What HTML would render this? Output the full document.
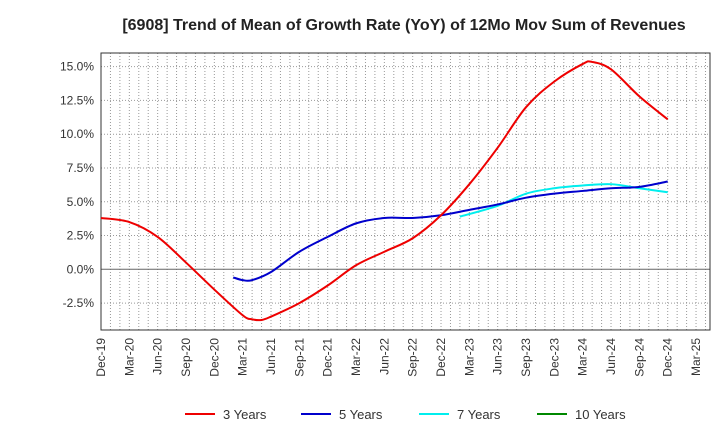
<!DOCTYPE html>
<html><head><meta charset="utf-8"><style>
body{margin:0;background:#fff;font-family:"Liberation Sans",Arial,sans-serif}
svg text{font-family:"Liberation Sans",Arial,sans-serif}
</style></head><body>
<svg id="chart" width="720" height="440">
<text x="404" y="30" text-anchor="middle" font-size="16" font-weight="bold" fill="#222">[6908]  Trend of Mean of Growth Rate (YoY) of 12Mo Mov Sum of Revenues</text>
<g id="grid"></g><g id="axes"></g><g id="series"></g>
<g font-size="13" fill="#333">
<line x1="185" y1="414" x2="215" y2="414" stroke="#e00" stroke-width="2"/><text x="223" y="419" fill="#333">3 Years</text>
<line x1="301" y1="414" x2="331" y2="414" stroke="#00c" stroke-width="2"/><text x="339" y="419" fill="#333">5 Years</text>
<line x1="419" y1="414" x2="449" y2="414" stroke="#0ee" stroke-width="2"/><text x="457" y="419" fill="#333">7 Years</text>
<line x1="537" y1="414" x2="567" y2="414" stroke="#080" stroke-width="2"/><text x="575" y="419" fill="#333">10 Years</text>
</g>
</svg>
<script>
const xLabels=["Dec-19","Mar-20","Jun-20","Sep-20","Dec-20","Mar-21","Jun-21","Sep-21","Dec-21","Mar-22","Jun-22","Sep-22","Dec-22","Mar-23","Jun-23","Sep-23","Dec-23","Mar-24","Jun-24","Sep-24","Dec-24","Mar-25"];
const yTicks=[-2.5,0,2.5,5,7.5,10,12.5,15];
const yTickLabels=["-2.5%","0.0%","2.5%","5.0%","7.5%","10.0%","12.5%","15.0%"];
// months since Dec-19
const m3=[0,3,6,9,12,15,16,17,18,21,24,27,30,33,36,39,42,45,48,51,52,54,57,60];
const v3=[3.8,3.5,2.4,0.5,-1.5,-3.4,-3.7,-3.75,-3.5,-2.5,-1.2,0.3,1.3,2.3,4.0,6.3,9.0,12.0,13.9,15.2,15.35,14.8,12.8,11.1];
const m5=[14,15,16,18,21,24,27,30,33,36,39,42,45,48,51,54,57,60];
const v5=[-0.6,-0.8,-0.8,-0.2,1.3,2.4,3.4,3.8,3.8,4.0,4.4,4.8,5.3,5.6,5.8,6.0,6.1,6.5];
const m7=[38,42,45,48,51,54,57,60];
const v7=[3.9,4.7,5.6,6.0,6.2,6.3,6.0,5.7];
const L=101,R=710,T=53,B=330;
const X=m=>L+m*9.445;
const Y=v=>269.3-v*13.51;
const ns="http://www.w3.org/2000/svg";
function mk(tag,attrs,parent){const e=document.createElementNS(ns,tag);for(const k in attrs)e.setAttribute(k,attrs[k]);document.getElementById(parent).appendChild(e);return e;}
for(let m=0;X(m)<R;m++){
 const g=mk('line',{x1:X(m),x2:X(m),y1:T,y2:B,stroke:'#999','stroke-dasharray':'1,2','stroke-width':1},'grid');
 
 
}
yTicks.forEach((v,i)=>{
 const g=mk('line',{x1:L,x2:R,y1:Y(v),y2:Y(v),stroke:v===0?'#666':'#999','stroke-dasharray':v===0?'':'1,2'},'grid');
 
 
 const t=mk('text',{x:L-7,y:Y(v)+4,'text-anchor':'end','font-size':12,fill:'#333'},'axes');
 t.textContent=yTickLabels[i];
 
 
});
const fr=mk('rect',{x:L,y:T,width:R-L,height:B-T,fill:'none',stroke:'#333'},'axes');


xLabels.forEach((s,i)=>{
 const x=X(i*3);
 const t=mk('text',{x:x+4,y:B+8,'text-anchor':'end','font-size':12,fill:'#333',transform:`rotate(-90 ${x+4} ${B+8})`},'axes');
 t.textContent=s;
 
 
});
function path(ms,vs){const p=ms.map((m,i)=>[X(m),Y(vs[i])]);let d=`M${p[0][0]},${p[0][1]}`;
 for(let i=0;i<p.length-1;i++){const p0=p[i-1]||p[i],p1=p[i],p2=p[i+1],p3=p[i+2]||p2;
  d+=` C${p1[0]+(p2[0]-p0[0])/6},${p1[1]+(p2[1]-p0[1])/6} ${p2[0]-(p3[0]-p1[0])/6},${p2[1]-(p3[1]-p1[1])/6} ${p2[0]},${p2[1]}`;}
 return d;}
[[m7,v7,'#0ee','line-7-years'],[m5,v5,'#00c','line-5-years'],[m3,v3,'#e00','line-3-years']].forEach(([m,v,c,n])=>{
 const e=mk('path',{d:path(m,v),fill:'none',stroke:c,'stroke-width':2},'series');
 
 
});
</script>
</body></html>
